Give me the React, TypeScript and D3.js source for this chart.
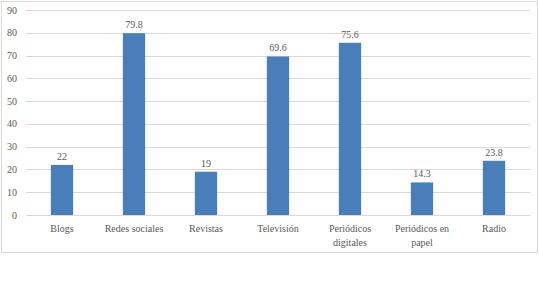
import React from "react";
import * as d3 from "d3";

const categories: string[][] = [
  ["Blogs"],
  ["Redes sociales"],
  ["Revistas"],
  ["Televisión"],
  ["Periódicos", "digitales"],
  ["Periódicos en", "papel"],
  ["Radio"],
];
const values: number[] = [22, 79.8, 19, 69.6, 75.6, 14.3, 23.8];
const valueLabels: string[] = ["22", "79.8", "19", "69.6", "75.6", "14.3", "23.8"];
const yTicks: number[] = [0, 10, 20, 30, 40, 50, 60, 70, 80, 90];

const W = 539;
const H = 284;
const left = 26;
const right = 530;
const top = 10;
const bottom = 215;
const font = '"Liberation Serif", "Times New Roman", Times, "DejaVu Serif", serif';
const textColor = "#595959";

export default function App() {
  const x = d3
    .scaleBand<number>()
    .domain(values.map((_, i) => i))
    .range([left, right])
    .paddingInner(0.69)
    .paddingOuter(0.345);
  const y = d3.scaleLinear().domain([0, 90]).range([bottom, top]);
  const ts = { fontFamily: font, fontSize: "10px", fill: textColor } as React.CSSProperties;

  return (
    <svg
      width={W}
      height={H}
      style={{ position: "fixed", left: 0, top: 0, background: "#fff", fontFamily: font }}
    >
      <rect x={1.5} y={1.5} width={536} height={251} fill="#fff" stroke="#d9d9d9" strokeWidth={1} />
      {yTicks.map((t) => (
        <g key={t}>
          <line x1={left} x2={right} y1={Math.round(y(t)) + 0.5} y2={Math.round(y(t)) + 0.5} stroke="#d9d9d9" strokeWidth={1} />
          <text x={17} y={y(t) + 3.5} textAnchor="end" style={ts}>
            {t}
          </text>
        </g>
      ))}
      {values.map((v, i) => (
        <g key={i}>
          <rect x={x(i)} y={y(v)} width={x.bandwidth()} height={y(0) - y(v)} fill="#4a7ebb" />
          <text
            x={(x(i) as number) + x.bandwidth() / 2}
            y={y(v) - 5}
            textAnchor="middle"
            style={ts}
          >
            {valueLabels[i]}
          </text>
          {categories[i].map((line, j) => (
            <text
              key={j}
              x={(x(i) as number) + x.bandwidth() / 2}
              y={232 + j * 13.5}
              textAnchor="middle"
              style={ts}
            >
              {line}
            </text>
          ))}
        </g>
      ))}
    </svg>
  );
}
